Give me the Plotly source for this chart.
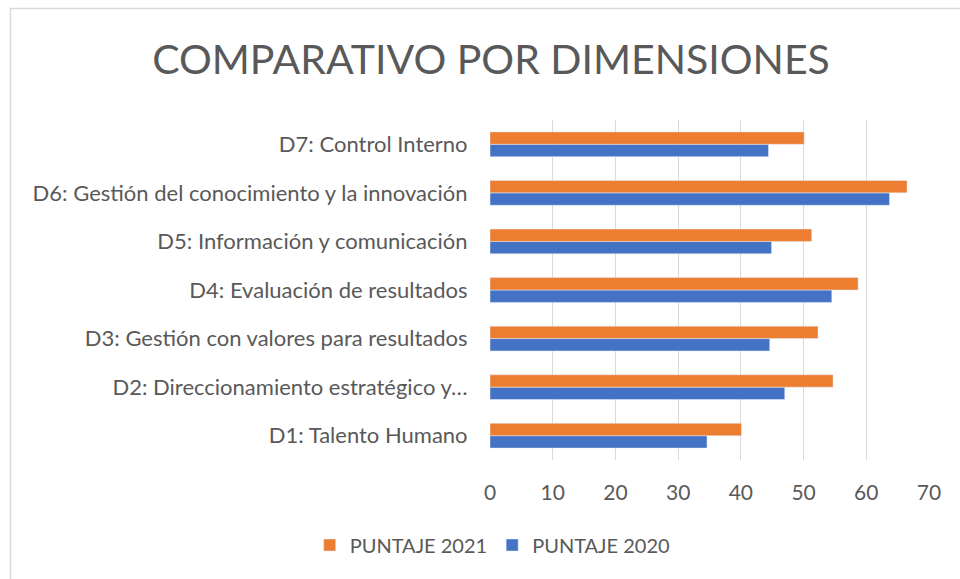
import plotly.graph_objects as go

categories = [
    "D1: Talento Humano",
    "D2: Direccionamiento estratégico y…",
    "D3: Gestión con valores para resultados",
    "D4: Evaluación de resultados",
    "D5: Información y comunicación",
    "D6: Gestión del conocimiento y la innovación",
    "D7: Control Interno",
]
puntaje_2020 = [34.6, 47.0, 44.6, 54.5, 44.9, 63.7, 44.4]
puntaje_2021 = [40.1, 54.7, 52.3, 58.7, 51.3, 66.5, 50.1]
x_ticks = [0, 10, 20, 30, 40, 50, 60, 70]

FONT = "Lato"
GRAY = "#595959"

fig = go.Figure()
fig.add_trace(go.Bar(y=categories, x=puntaje_2020, orientation="h",
                     name="PUNTAJE 2020", marker_color="#4472C4"))
fig.add_trace(go.Bar(y=categories, x=puntaje_2021, orientation="h",
                     name="PUNTAJE 2021", marker_color="#ED7D31"))

L, R, T, B = 490, 31, 120, 119
W, H = 960, 579
pw, ph = W - L - R, H - T - B

fig.update_layout(
    width=W, height=H,
    margin=dict(l=L, r=R, t=T, b=B, autoexpand=False),
    paper_bgcolor="white", plot_bgcolor="white",
    barmode="group", bargap=0.49, bargroupgap=0,
    title=dict(text="COMPARATIVO POR DIMENSIONES", x=(491 / W), xanchor="center",
               xref="container",
               y=1 - 60 / H, yanchor="middle",
               font=dict(family=FONT, size=41, color=GRAY)),
    font=dict(family=FONT, color=GRAY),
    legend=dict(orientation="h", traceorder="reversed",
                x=0.005, xanchor="center", y=(ph - (545 - T)) / ph, yanchor="middle",
                itemwidth=30,
                font=dict(family=FONT, size=20, color=GRAY)),
    xaxis=dict(range=[0, 70], tickvals=x_ticks, showgrid=True, gridcolor="#D9D9D9",
               gridwidth=1, zeroline=False, showline=False,
               ticks="outside", ticklen=14, tickcolor="rgba(0,0,0,0)",
               tickfont=dict(family=FONT, size=21, color=GRAY), fixedrange=True),
    yaxis=dict(categoryorder="array", categoryarray=categories, showgrid=False,
               zeroline=False, showline=False, ticks="outside", ticklen=17,
               tickcolor="rgba(0,0,0,0)",
               tickfont=dict(family=FONT, size=22, color=GRAY), fixedrange=True),
    showlegend=True,
)

# chart area border (top and left edges visible)
fig.add_shape(type="rect", xref="paper", yref="paper",
              x0=(10.5 - L) / pw, x1=(W + 5 - L) / pw,
              y0=-(H + 5 - T - ph) / ph, y1=(ph + T - 8.5) / ph,
              line=dict(color="#D9D9D9", width=1.5), fillcolor="rgba(0,0,0,0)", layer="below")

fig.write_html("out.html", config={"displayModeBar": False},
               post_script="document.body.style.margin='0';document.body.style.overflow='hidden';")
